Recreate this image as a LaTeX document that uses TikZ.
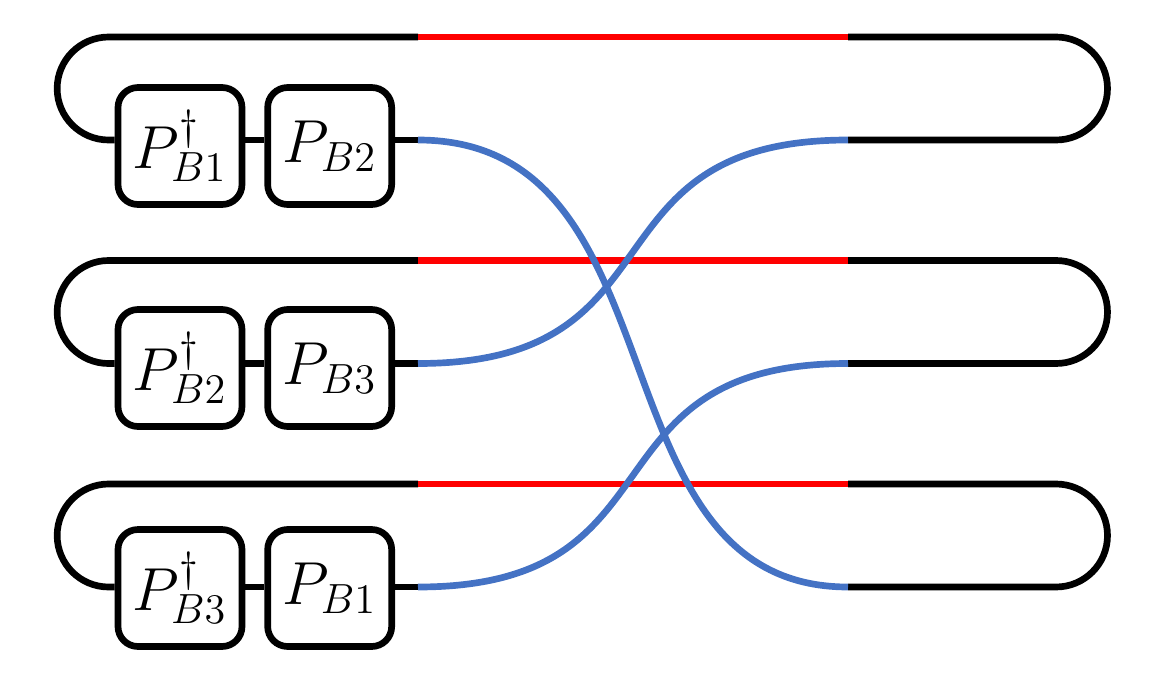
\documentclass[tikz,border=0pt]{standalone}
\usepackage{xcolor}
\definecolor{wireblue}{RGB}{68,114,196}
\definecolor{wirered}{RGB}{255,0,0}
\usepackage{tikz}
\usetikzlibrary{positioning,calc}

\begin{document}
\begin{tikzpicture}[
  opbox/.style={rectangle, draw=black, line width=1.9pt, rounded corners=0.2cm, minimum width=1.24cm, minimum height=1.17cm, inner sep=0pt, font=\fontsize{17.5}{20}\selectfont},
  wire/.style={draw=black, line width=1.9pt},
  redwire/.style={draw=wirered, line width=1.9pt},
  bluewire/.style={draw=wireblue, line width=1.9pt}
]
  \useasboundingbox (0,0) rectangle (11.71,-6.75);

  % operator boxes
  \node[opbox] (pd1) at (1.80,-1.46) {$P_{B1}^{\dagger}$};
  \node[opbox, right=0.19cm of pd1] (p2) {$P_{B2}$};
  \node[opbox] (pd2) at (1.80,-3.68) {$P_{B2}^{\dagger}$};
  \node[opbox, right=0.19cm of pd2] (p3) {$P_{B3}$};
  \node[opbox] (pd3) at (1.80,-5.88) {$P_{B3}^{\dagger}$};
  \node[opbox, right=0.19cm of pd3] (p1) {$P_{B1}$};

  % wire ends
  \coordinate (ra1) at (4.18,-0.37);  \coordinate (rb1) at (8.48,-0.37);
  \coordinate (ra2) at (4.18,-2.605); \coordinate (rb2) at (8.48,-2.605);
  \coordinate (ra3) at (4.18,-4.84);  \coordinate (rb3) at (8.48,-4.84);
  \coordinate (bs1) at (4.18,-1.40);  \coordinate (eb1) at (8.48,-1.40);
  \coordinate (bs2) at (4.18,-3.635); \coordinate (eb2) at (8.48,-3.635);
  \coordinate (bs3) at (4.18,-5.87);  \coordinate (eb3) at (8.48,-5.87);

  % black loops
  \draw[wire] (pd1.west |- bs1) -- ++(-0.06,0) arc[start angle=270, end angle=90, radius=0.515] -- (ra1);
  \draw[wire] (pd2.west |- bs2) -- ++(-0.06,0) arc[start angle=270, end angle=90, radius=0.515] -- (ra2);
  \draw[wire] (pd3.west |- bs3) -- ++(-0.06,0) arc[start angle=270, end angle=90, radius=0.515] -- (ra3);
  \draw[wire] (rb1) -- ++(2.08,0) arc[start angle=90, end angle=-90, radius=0.515] -- (eb1);
  \draw[wire] (rb2) -- ++(2.08,0) arc[start angle=90, end angle=-90, radius=0.515] -- (eb2);
  \draw[wire] (rb3) -- ++(2.08,0) arc[start angle=90, end angle=-90, radius=0.515] -- (eb3);

  \draw[wire] (pd1.east |- bs1) -- (p2.west |- bs1);
  \draw[wire] (pd2.east |- bs2) -- (p3.west |- bs2);
  \draw[wire] (pd3.east |- bs3) -- (p1.west |- bs3);
  \draw[wire] (p2.east |- bs1) -- (bs1);
  \draw[wire] (p3.east |- bs2) -- (bs2);
  \draw[wire] (p1.east |- bs3) -- (bs3);

  % red segments
  \draw[redwire] (ra1) -- (rb1);
  \draw[redwire] (ra2) -- (rb2);
  \draw[redwire] (ra3) -- (rb3);

  % blue crossings
  \draw[bluewire] (bs1) .. controls +(2.7,0) and +(-2.6,0) .. (eb3);
  \draw[bluewire] (bs2) .. controls +(2.7,0) and +(-2.7,0) .. (eb1);
  \draw[bluewire] (bs3) .. controls +(2.7,0) and +(-2.7,0) .. (eb2);
\end{tikzpicture}
\end{document}
